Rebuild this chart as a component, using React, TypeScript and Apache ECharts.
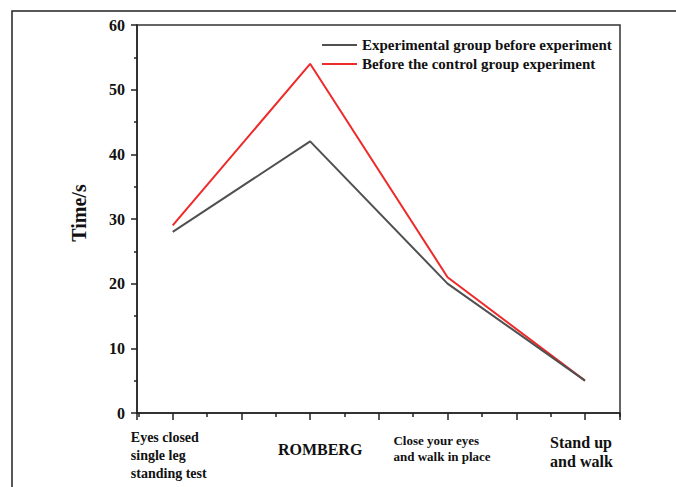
import React, { useEffect, useRef } from "react";
import * as echarts from "echarts";

const categories = [
  ["Eyes closed", "single leg", "standing test"],
  ["ROMBERG"],
  ["Close your eyes", "and walk in place"],
  ["Stand up", "and walk"],
];
const experimentalBefore = [28, 42, 20, 5];
const controlBefore = [29, 54, 21, 5];
const seriesNames = ["Experimental group before experiment", "Before the control group experiment"];

const FONT = "'Liberation Serif', 'Times New Roman', serif";

export default function App() {
  const ref = useRef<HTMLDivElement>(null);
  useEffect(() => {
    if (!ref.current) return;
    const chart = echarts.init(ref.current, null, { renderer: "svg" });
    const toPairs = (arr: number[]) => arr.map((v, i) => [i + 1, v]);
    const option = {
      animation: false,
      backgroundColor: "#ffffff",
      graphic: [
        {
          type: "rect",
          shape: { x: 12, y: 11, width: 700, height: 500 },
          style: { fill: "none", stroke: "#222", lineWidth: 1.5 },
          silent: true,
        },
      ],
      grid: {
        left: 137,
        right: 56,
        top: 25,
        bottom: 74,
        show: true,
        borderColor: "#333",
        borderWidth: 1.5,
        backgroundColor: "transparent",
      },
      legend: {
        orient: "vertical",
        left: 322,
        top: 37,
        padding: 0,
        icon: "rect",
        itemWidth: 35,
        itemHeight: 2,
        itemGap: 3,
        textStyle: { fontFamily: FONT, fontWeight: "bold", fontSize: 15, color: "#111", lineHeight: 16 },
        data: seriesNames,
      },
      xAxis: {
        type: "value",
        min: 0.74,
        max: 4.255,
        minInterval: 0.5,
        maxInterval: 0.5,
        splitNumber: 7,
        splitLine: { show: false },
        axisLine: { show: true, lineStyle: { color: "#222", width: 1.5 } },
        axisTick: { show: true, length: 7, lineStyle: { color: "#222", width: 1.5 } },
        minorTick: { show: true, splitNumber: 2, length: 4, lineStyle: { color: "#222", width: 1.5 } },
        axisLabel: {
          margin: 15,
          align: "center",
          verticalAlign: "top",
          showMinLabel: false,
          showMaxLabel: false,
          formatter: (v: number) => {
            const r = Math.round(v);
            if (Math.abs(v - r) > 1e-6 || r < 1 || r > categories.length) return "";
            const lines = categories[r - 1];
            return lines.map((l) => `{c${r - 1}|${l}}`).join("\n");
          },
          rich: {
            c0: { fontFamily: FONT, fontWeight: "bold", fontSize: 14, lineHeight: 18, align: "left", color: "#111", padding: [0, 8, 0, 0] },
            c1: { fontFamily: FONT, fontWeight: "bold", fontSize: 16, lineHeight: 42, align: "left", color: "#111", padding: [0, 0, 0, 20] },
            c2: { fontFamily: FONT, fontWeight: "bold", fontSize: 13, lineHeight: 16, align: "left", color: "#111", padding: [8, 11, 0, 0] },
            c3: { fontFamily: FONT, fontWeight: "bold", fontSize: 16, lineHeight: 19, align: "left", color: "#111", padding: [9, 7, 0, 0] },
          },
        },
      },
      yAxis: {
        type: "value",
        min: 0,
        max: 60,
        interval: 10,
        name: "Time/s",
        nameLocation: "middle",
        nameGap: 48,
        nameTextStyle: { fontFamily: FONT, fontWeight: "bold", fontSize: 20, color: "#111", padding: [0, 0, 0, 12] },
        splitLine: { show: false },
        axisLine: { show: true, lineStyle: { color: "#222", width: 1.5 } },
        axisTick: { show: true, length: 6, lineStyle: { color: "#222", width: 1.5 } },
        minorTick: { show: true, splitNumber: 2, length: 3, lineStyle: { color: "#222", width: 1.5 } },
        axisLabel: { margin: 12, fontFamily: FONT, fontWeight: "bold", fontSize: 16, color: "#111" },
      },
      series: [
        {
          name: seriesNames[0],
          type: "line",
          data: toPairs(experimentalBefore),
          symbol: "none",
          lineStyle: { color: "#505050", width: 2 },
          itemStyle: { color: "#505050" },
          z: 3,
        },
        {
          name: seriesNames[1],
          type: "line",
          data: toPairs(controlBefore),
          symbol: "none",
          lineStyle: { color: "#ee2a2a", width: 2 },
          itemStyle: { color: "#ee2a2a" },
          z: 2,
        },
      ],
    };
    chart.setOption(option as any);
    return () => chart.dispose();
  }, []);
  return (
    <div
      ref={ref}
      style={{ position: "absolute", left: 0, top: 0, width: 676, height: 487, background: "#fff" }}
    />
  );
}
